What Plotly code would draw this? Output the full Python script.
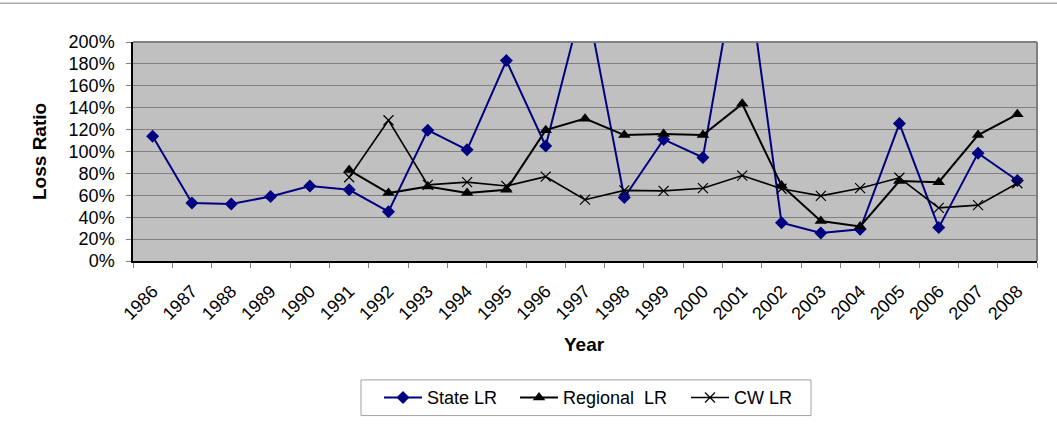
import plotly.graph_objects as go

# Loss ratios by year (fractions; 1.0 = 100%)
years = [str(y) for y in range(1986, 2009)]

state_lr = [1.14, 0.53, 0.52, 0.59, 0.685, 0.65, 0.45, 1.195, 1.015, 1.83, 1.05,
            2.45, 0.58, 1.11, 0.945, 3.00, 0.35, 0.255, 0.29, 1.255, 0.305, 0.985, 0.735]

regional_years = years[5:]
regional_lr = [0.83, 0.62, 0.68, 0.62, 0.65, 1.195, 1.30, 1.15, 1.16, 1.15, 1.435,
               0.69, 0.365, 0.315, 0.73, 0.72, 1.15, 1.34]

cw_years = years[5:]
cw_lr = [0.765, 1.285, 0.695, 0.72, 0.685, 0.77, 0.56, 0.645, 0.64, 0.665, 0.78,
         0.66, 0.595, 0.665, 0.76, 0.485, 0.51, 0.71]

FONT = "Liberation Sans, Arial, sans-serif"

# plot area in pixels, used to place legend pieces and annotations
L, R, T, B = 133, 1037, 42, 263
W, H = R - L, B - T


def px_x(px):
    return (px - L) / W


def px_y(py):
    return (B - py) / H


fig = go.Figure()

fig.add_trace(go.Scatter(
    x=years, y=state_lr, name="State LR", mode="lines+markers",
    line=dict(color="#000080", width=2),
    marker=dict(symbol="diamond", size=10, color="#000080"),
    legend="legend",
))
fig.add_trace(go.Scatter(
    x=regional_years, y=regional_lr, name="Regional\u00a0 LR", mode="lines+markers",
    line=dict(color="#000000", width=2),
    marker=dict(symbol="triangle-up", size=11, color="#000000"),
    legend="legend2",
))
fig.add_trace(go.Scatter(
    x=cw_years, y=cw_lr, name="CW LR", mode="lines+markers",
    line=dict(color="#000000", width=1.6),
    marker=dict(symbol="x-thin", size=10, color="#000000",
                line=dict(color="#000000", width=1.2)),
    legend="legend3",
))

legend_common = dict(
    orientation="h", yanchor="middle", xanchor="left",
    bgcolor="rgba(0,0,0,0)", borderwidth=0,
    font=dict(family=FONT, size=18, color="black"),
    itemwidth=38,
)

fig.update_layout(
    width=1057, height=428,
    margin=dict(l=L, r=1057 - R, t=T, b=428 - B),
    paper_bgcolor="white",
    plot_bgcolor="#C0C0C0",
    font=dict(family=FONT, size=17, color="black"),
    showlegend=True,
    legend=dict(x=px_x(379), y=px_y(401), **legend_common),
    legend2=dict(x=px_x(515), y=px_y(401), **legend_common),
    legend3=dict(x=px_x(686), y=px_y(401), **legend_common),
    xaxis=dict(
        type="category", categoryorder="array", categoryarray=years,
        range=[-0.5, len(years) - 0.5],
        tickangle=-45, tickson="boundaries", ticks="outside", ticklen=5,
        tickcolor="#808080", showgrid=False, ticklabelstandoff=11,
        showline=True, linecolor="black", linewidth=1.5,
        tickfont=dict(family=FONT, size=18, color="black"),
        fixedrange=True,
    ),
    yaxis=dict(
        range=[0, 2], dtick=0.2, tickformat=".0%",
        ticks="outside", ticklen=5, tickcolor="#808080", ticklabelstandoff=8,
        showgrid=True, gridcolor="#808080", gridwidth=1.2,
        showline=True, linecolor="black", linewidth=1.5,
        zeroline=False,
        tickfont=dict(family=FONT, size=18, color="black"),
        fixedrange=True,
    ),
    shapes=[
        # gray frame on top and right of plotting area
        dict(type="line", xref="paper", yref="paper", x0=0, x1=1, y0=1, y1=1,
             line=dict(color="#808080", width=2), layer="above"),
        dict(type="line", xref="paper", yref="paper", x0=1, x1=1, y0=0, y1=1,
             line=dict(color="#808080", width=2), layer="above"),
        # thin rule across the top of the chart
        dict(type="line", xref="paper", yref="paper", x0=px_x(0), x1=px_x(1057),
             y0=px_y(3), y1=px_y(3), line=dict(color="#AAAAAA", width=1.5)),
        # legend frame
        dict(type="rect", xref="paper", yref="paper",
             x0=px_x(361), x1=px_x(811), y0=px_y(419), y1=px_y(383),
             line=dict(color="#A0A0A0", width=1), fillcolor="white", layer="below"),
    ],
    annotations=[
        dict(text="<b>Loss Ratio</b>", xref="paper", yref="paper",
             x=px_x(40), y=px_y(153), textangle=-90, showarrow=False,
             xanchor="center", yanchor="middle",
             font=dict(family=FONT, size=19, color="black")),
        dict(text="<b>Year</b>", xref="paper", yref="paper",
             x=px_x(584), y=px_y(347), showarrow=False,
             xanchor="center", yanchor="middle",
             font=dict(family=FONT, size=19, color="black")),
    ],
)

fig.write_html("out.html")
